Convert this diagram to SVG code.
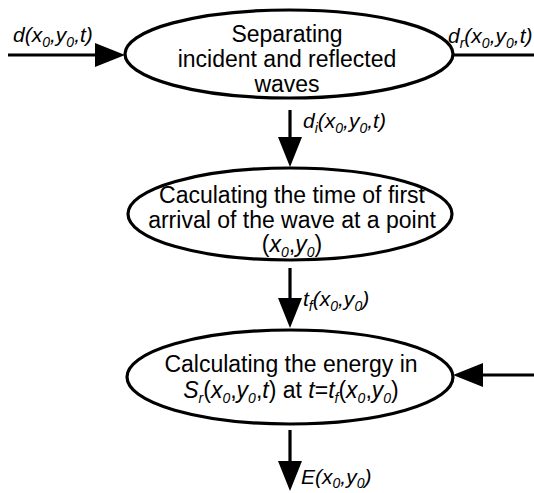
<svg xmlns="http://www.w3.org/2000/svg" width="534" height="493" viewBox="0 0 534 493">
<style>
.node ellipse{fill:#fff;stroke:#000;stroke-width:3.2}
.t{font-family:"Liberation Sans",Arial,sans-serif;font-size:23px;fill:#000}
.m{font-family:"Liberation Sans",Arial,sans-serif;font-size:21px;font-style:italic;fill:#000}
.s{font-size:14px}
.c line{stroke:#000;stroke-width:3.2}
</style>
<defs>
<marker id="ah" markerUnits="userSpaceOnUse" markerWidth="30" markerHeight="26" refX="20" refY="12" orient="auto">
<path d="M0,0 L30,12 L0,24 Z" fill="#000"/>
</marker>
</defs>
<rect width="534" height="493" fill="#fff"/>
<g id="connectors" class="c">
<line x1="8" y1="55" x2="115" y2="55" marker-end="url(#ah)"/>
<line x1="452" y1="55" x2="534" y2="55"/>
<line x1="290" y1="110" x2="290" y2="157" marker-end="url(#ah)"/>
<line x1="290" y1="268" x2="290" y2="318" marker-end="url(#ah)"/>
<line x1="534" y1="375" x2="463" y2="375" marker-end="url(#ah)"/>
<line x1="290" y1="430" x2="290" y2="481" marker-end="url(#ah)"/>
</g>
<g id="labels">
<text class="m" x="13" y="42">d(x<tspan class="s" dy="5">0</tspan><tspan dy="-5">,y</tspan><tspan class="s" dy="5">0</tspan><tspan dy="-5">,t)</tspan></text>
<text class="m" x="448" y="43">d<tspan class="s" dy="5">r</tspan><tspan dy="-5">(x</tspan><tspan class="s" dy="5">0</tspan><tspan dy="-5">,y</tspan><tspan class="s" dy="5">0</tspan><tspan dy="-5">,t)</tspan></text>
<text class="m" x="303" y="128">d<tspan class="s" dy="5">i</tspan><tspan dy="-5">(x</tspan><tspan class="s" dy="5">0</tspan><tspan dy="-5">,y</tspan><tspan class="s" dy="5">0</tspan><tspan dy="-5">,t)</tspan></text>
<text class="m" x="303" y="306">t<tspan class="s" dy="5">f</tspan><tspan dy="-5">(x</tspan><tspan class="s" dy="5">0</tspan><tspan dy="-5">,y</tspan><tspan class="s" dy="5">0</tspan><tspan dy="-5">)</tspan></text>
<text class="m" x="301" y="484">E(x<tspan class="s" dy="4">0</tspan><tspan dy="-4">,y</tspan><tspan class="s" dy="4">0</tspan><tspan dy="-4">)</tspan></text>
</g>
<g id="node1" class="node">
<ellipse cx="289" cy="54" rx="164" ry="44"/>
<text class="t" text-anchor="middle" x="287" y="42" font-size="22">Separating<tspan x="287" y="67">incident and reflected</tspan><tspan x="287" y="92">waves</tspan></text>
</g>
<g id="node2" class="node">
<ellipse cx="290" cy="214" rx="162" ry="46"/>
<text class="t" text-anchor="middle" x="292" y="203">Caculating the time of first<tspan x="292" y="228">arrival of the wave at a point</tspan></text>
<text class="t" text-anchor="middle" x="292" y="252">(<tspan font-style="italic">x</tspan><tspan class="s" font-style="italic" dy="5">0</tspan><tspan dy="-5">,</tspan><tspan font-style="italic">y</tspan><tspan class="s" font-style="italic" dy="5">0</tspan><tspan dy="-5">)</tspan></text>
</g>
<g id="node3" class="node">
<ellipse cx="290" cy="377" rx="163" ry="47"/>
<text class="t" text-anchor="middle" x="291" y="372">Calculating the energy in</text>
<text class="t" text-anchor="middle" x="291" y="398"><tspan font-style="italic">S</tspan><tspan class="s" font-style="italic" dy="5">r</tspan><tspan dy="-5">(</tspan><tspan font-style="italic">x</tspan><tspan class="s" font-style="italic" dy="5">0</tspan><tspan dy="-5">,</tspan><tspan font-style="italic">y</tspan><tspan class="s" font-style="italic" dy="5">0</tspan><tspan dy="-5">,</tspan><tspan font-style="italic">t</tspan>) at <tspan font-style="italic">t</tspan>=<tspan font-style="italic">t</tspan><tspan class="s" font-style="italic" dy="5">f</tspan><tspan dy="-5">(</tspan><tspan font-style="italic">x</tspan><tspan class="s" font-style="italic" dy="5">0</tspan><tspan dy="-5">,</tspan><tspan font-style="italic">y</tspan><tspan class="s" font-style="italic" dy="5">0</tspan><tspan dy="-5">)</tspan></text>
</g>
</svg>
